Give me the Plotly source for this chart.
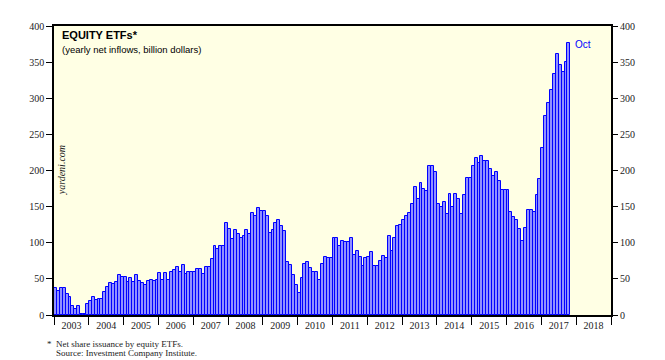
import plotly.graph_objects as go

# Monthly values (billion dollars), Jan..Dec per year; 2017 through October
y2003 = [37, 33, 37, 37, 29, 25, 13, 8, 12, 2, 2, 15]
y2004 = [20, 25, 21, 22, 22, 32, 39, 44, 43, 46, 55, 52]
y2005 = [52, 46, 51, 45, 55, 47, 44, 41, 47, 49, 47, 49]
y2006 = [58, 48, 58, 49, 59, 62, 66, 60, 69, 57, 60, 59]
y2007 = [59, 63, 63, 57, 66, 66, 77, 95, 91, 95, 95, 128]
y2008 = [119, 105, 118, 112, 107, 109, 117, 112, 141, 137, 148, 144]
y2009 = [144, 137, 114, 117, 128, 131, 123, 116, 73, 69, 55, 42]
y2010 = [31, 51, 70, 74, 65, 60, 60, 49, 70, 80, 79, 79]
y2011 = [106, 107, 95, 103, 101, 101, 106, 83, 88, 80, 68, 79]
y2012 = [80, 87, 68, 68, 75, 81, 79, 109, 88, 106, 123, 125]
y2013 = [132, 137, 141, 153, 177, 160, 183, 175, 172, 206, 206, 198]
y2014 = [153, 149, 156, 140, 168, 149, 168, 160, 140, 166, 189, 189]
y2015 = [206, 218, 210, 220, 213, 213, 202, 193, 198, 185, 173, 173]
y2016 = [173, 142, 135, 132, 119, 102, 120, 146, 145, 142, 166, 188]
y2017 = [231, 275, 293, 311, 333, 361, 346, 336, 350, 376]

years = list(range(2003, 2019))
year_labels = [str(y) for y in years]
y_ticks = [0, 50, 100, 150, 200, 250, 300, 350, 400]

series = [y2003, y2004, y2005, y2006, y2007, y2008, y2009, y2010,
          y2011, y2012, y2013, y2014, y2015, y2016, y2017]
values = [v for yr in series for v in yr]
x = [2003 + (i + 0.5) / 12 for i in range(len(values))]

serif = "Liberation Serif, Times New Roman, serif"
sans = "Liberation Sans, Arial, sans-serif"

fig = go.Figure()
fig.add_trace(go.Bar(
    x=x, y=values, width=1 / 12,
    marker=dict(color="#9090ff", line=dict(color="#0000ff", width=1)),
    showlegend=False, hoverinfo="skip",
))
# invisible trace for right axis
fig.add_trace(go.Scatter(x=[2003], y=[0], yaxis="y2", mode="markers",
                         marker=dict(opacity=0), showlegend=False, hoverinfo="skip"))

# page body has an 8px margin, so the figure is shifted by 8px
fig.update_layout(
    width=657, height=352,
    margin=dict(l=46, r=54, t=18, b=45),
    paper_bgcolor="white",
    plot_bgcolor="#ffffe4",
    bargap=0,
    xaxis=dict(
        range=[2003, 2019],
        tickmode="array",
        tickvals=[y + 0.5 for y in years],
        ticktext=year_labels,
        ticks="",
        tickfont=dict(family=serif, size=10, color="#222"),
        showgrid=False, zeroline=False,
        showline=True, linecolor="black", linewidth=1.5, mirror=True,
        minor=dict(tickmode="linear", tick0=2003, dtick=1, ticks="outside",
                   ticklen=8, tickcolor="black", tickwidth=1, showgrid=False),
        fixedrange=True,
    ),
    yaxis=dict(
        range=[0, 400], tickmode="array", tickvals=y_ticks,
        ticks="outside", ticklen=6, tickcolor="black",
        tickfont=dict(family=serif, size=10, color="#222"),
        showgrid=False, zeroline=False,
        showline=True, linecolor="black", linewidth=1.5, mirror=True,
    ),
    yaxis2=dict(
        range=[0, 400], tickmode="array", tickvals=y_ticks,
        overlaying="y", side="right",
        ticks="outside", ticklen=6, tickcolor="black",
        tickfont=dict(family=serif, size=10, color="#222"),
        showgrid=False, zeroline=False, showline=False,
    ),
)

fig.add_annotation(xref="paper", yref="paper", x=0.01, y=0.995,
                   xanchor="left", yanchor="top", showarrow=False,
                   text="<b>EQUITY ETFs*</b>",
                   font=dict(family=sans, size=11, color="black"))
fig.add_annotation(xref="paper", yref="paper", x=0.01, y=0.945,
                   xanchor="left", yanchor="top", showarrow=False,
                   text="(yearly net inflows, billion dollars)",
                   font=dict(family=sans, size=9.5, color="black"))
fig.add_annotation(xref="paper", yref="paper", x=0.014, y=0.5,
                   xanchor="center", yanchor="middle", showarrow=False,
                   text="<i>yardeni.com</i>", textangle=-90,
                   font=dict(family=serif, size=10, color="#222"))
fig.add_annotation(x=x[-1], y=values[-1], xanchor="left", yanchor="middle",
                   xshift=4, yshift=-1, showarrow=False, text="Oct",
                   font=dict(family=sans, size=10, color="#0000ff"))
fig.add_annotation(xref="paper", yref="paper", x=-0.017, y=-0.100,
                   xanchor="left", yanchor="middle", showarrow=False,
                   text="*", font=dict(family=serif, size=9, color="#222"))
fig.add_annotation(xref="paper", yref="paper", x=0.0, y=-0.100,
                   xanchor="left", yanchor="middle", showarrow=False,
                   text="Net share issuance by equity ETFs.",
                   font=dict(family=serif, size=9, color="#222"))
fig.add_annotation(xref="paper", yref="paper", x=0.0, y=-0.131,
                   xanchor="left", yanchor="middle", showarrow=False,
                   text="Source: Investment Company Institute.",
                   font=dict(family=serif, size=9, color="#222"))

fig.write_html("out.html")
